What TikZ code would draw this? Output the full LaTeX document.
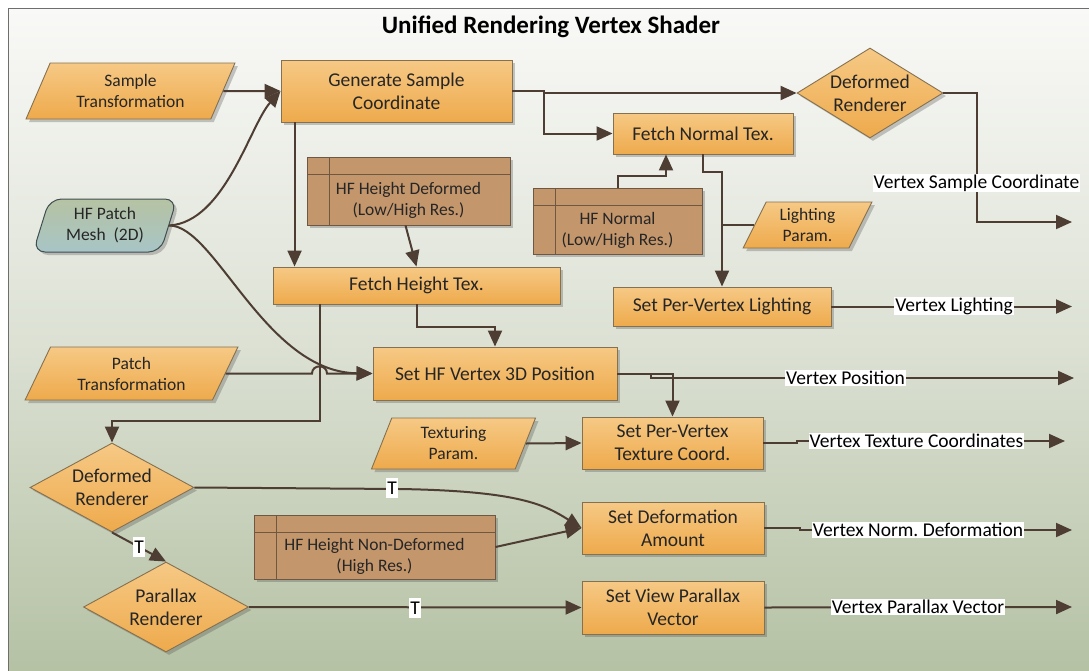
\documentclass[tikz,border=0pt]{standalone}
\usepackage{fontspec}
\setmainfont{Carlito}
\usetikzlibrary{shapes.geometric,arrows.meta,shadows,calc}
\frenchspacing

\definecolor{orT}{HTML}{F6C985}
\definecolor{orB}{HTML}{EEAA4C}
\definecolor{orD}{HTML}{85704F}
\definecolor{dsF}{HTML}{C4966C}
\definecolor{dsD}{HTML}{6F5843}
\definecolor{lnC}{HTML}{4E3D33}
\definecolor{bgT}{HTML}{F9F9F7}
\definecolor{bgM}{HTML}{DCE1D4}
\definecolor{bgB}{HTML}{B4C1A3}
\definecolor{frC}{HTML}{6E6E6E}
\definecolor{mshT}{HTML}{B6C3A3}
\definecolor{mshB}{HTML}{A7C4C6}
\definecolor{mshD}{HTML}{3F4F50}

\newcommand\szBig{\fontsize{19.5}{23}\selectfont}
\newcommand\szSmall{\fontsize{17.5}{21}\selectfont}
\newcommand\szTitle{\fontsize{25}{29}\selectfont\bfseries}

\tikzset{
  shd/.style={drop shadow={shadow xshift=3pt,shadow yshift=-3pt,opacity=0.3,fill=black!70}},
  proc/.style={shd, draw=orD, line width=0.9pt, top color=orT, bottom color=orB,
    inner sep=0pt, align=center, font=\szBig, text=black!85},
  pbox/.style 2 args={proc, minimum width=#1, minimum height=#2},
  para/.style={proc, shape=trapezium, trapezium stretches=true, font=\szSmall},
  dia/.style 2 args={proc, shape=diamond, minimum width=#1, minimum height=#2},
  store/.style={shd, draw=dsD, fill=dsF, line width=0.9pt, inner sep=0pt,
    path picture={
      \draw[dsD, line width=0.9pt] ([yshift=-17pt]path picture bounding box.north west) -- ([yshift=-17pt]path picture bounding box.north east);
      \draw[dsD, line width=0.9pt] ([xshift=22pt]path picture bounding box.north west) -- ([xshift=22pt]path picture bounding box.south west);
    }},
  conn/.style={draw=lnC, line width=2pt, -{Triangle[length=16pt,width=14pt]}},
  plainln/.style={draw=lnC, line width=2pt},
  olab/.style={fill=white, inner sep=1pt, font=\szBig, text=black},
  tlab/.style={fill=white, inner xsep=1pt, inner ysep=4pt, font=\szBig, text=black},
}

\begin{document}
\begin{tikzpicture}[x=1pt,y=-1pt]
\useasboundingbox (0,0) rectangle (1089,670);
\fill[white] (0,0) rectangle (1089,670);
\fill[top color=bgT, bottom color=bgB, middle color=bgM] (8,8) rectangle (1095,676);
\draw[frC, line width=1pt] (8,8) rectangle (1095,676);

\node[font=\szTitle] (title) at (551,27) {Unified Rendering Vertex Shader};

% nodes
\node[para, trapezium left angle=64, trapezium right angle=116, minimum width=209pt, minimum height=56pt] (SampleT) at (130.5,91) {Sample\\Transformation};
\node[pbox={231pt}{62pt}] (GenSample) at (396.5,91) {Generate Sample\\Coordinate};
\node[dia={146pt}{90pt}, label={[font=\szBig,align=center,text=black!85]center:Deformed\\Renderer}] (DRT) at (870,93) {};
\node[pbox={180pt}{41pt}] (FetchNormal) at (703,133.5) {Fetch Normal Tex.};
\node[shd, shape=trapezium, trapezium stretches=true, trapezium left angle=72, trapezium right angle=108,
      rounded corners=12pt, minimum width=144pt, minimum height=53pt, draw=mshD, line width=1pt,
      top color=mshT, bottom color=mshB, align=center, font=\szSmall, inner sep=0pt, text=black!85] (HFPatch) at (105,225.5) {HF Patch\\Mesh\ \ (2D)};
\node[store, minimum width=203pt, minimum height=68pt,
      label={[font=\szSmall,align=center,yshift=-9pt,text=black!85]center:HF Height Deformed\\(Low/High Res.)}] (HFHD) at (408.5,191) {};
\node[store, minimum width=169pt, minimum height=66pt,
      label={[font=\szSmall,align=center,yshift=-9pt,text=black!85]center:HF Normal\\(Low/High Res.)}] (HFN) at (617.5,221) {};
\node[para, trapezium left angle=65, trapezium right angle=115, minimum width=129pt, minimum height=46pt] (LightP) at (807.5,225) {Lighting\\Param.};
\node[pbox={218pt}{39pt}] (SPVL) at (722,306.5) {Set Per-Vertex Lighting};
\node[pbox={287pt}{37pt}] (FetchHeight) at (416.5,285.5) {Fetch Height Tex.};
\node[pbox={244pt}{53pt}] (SetHF3D) at (495,373.5) {Set HF Vertex 3D Position};
\node[para, trapezium left angle=63, trapezium right angle=117, minimum width=213pt, minimum height=53pt] (PatchT) at (131.5,373.5) {Patch\\Transformation};
\node[para, trapezium left angle=72, trapezium right angle=108, minimum width=165pt, minimum height=51pt] (TexP) at (453.5,443.5) {Texturing\\Param.};
\node[pbox={181pt}{52pt}] (SPVT) at (672.5,443) {Set Per-Vertex\\Texture Coord.};
\node[dia={164pt}{89pt}, label={[font=\szBig,align=center,text=black!85]center:Deformed\\Renderer}] (DRB) at (112,487.5) {};
\node[dia={165pt}{90pt}, label={[font=\szBig,align=center,text=black!85]center:Parallax\\Renderer}] (PR) at (166,607) {};
\node[store, minimum width=241pt, minimum height=64pt,
      label={[font=\szSmall,align=center,yshift=-9pt,text=black!85]center:HF Height Non-Deformed\\(High Res.)}] (HFND) at (374.5,547) {};
\node[pbox={182pt}{52pt}] (SetDef) at (673,528) {Set Deformation\\Amount};
\node[pbox={182pt}{53pt}] (SVP) at (673,607.5) {Set View Parallax\\Vector};

% output end points
\coordinate (o1) at (1072,222);
\coordinate (o2) at (1072,306.5);
\coordinate (o3) at (1074,378);
\coordinate (o4) at (1065,441);
\coordinate (o5) at (1072,530);
\coordinate (o6) at (1072,607);

% connectors
\draw[conn] (SampleT.east) -- (GenSample.west);
\draw[conn] (HFPatch.east) .. controls (225,222) and (250,125) .. (GenSample.west);
\draw[conn] (HFPatch.east) .. controls (215,225) and (265,372) .. (SetHF3D.west);
\draw[conn] (PatchT.east) -- (312,373.5) .. controls (312,364) and (327,364) .. (327,373.5) -- (SetHF3D.west);
\draw[conn] ([xshift=14pt]GenSample.south west) -- ([xshift=14pt]GenSample.south west |- FetchHeight.north);
\draw[conn] ([xshift=-3pt]HFHD.south) -- (FetchHeight.north);
\draw[conn] (GenSample.east) -- ++(32,0) |- (DRT.west);
\draw[conn] (GenSample.east) -- ++(32,0) |- (FetchNormal.west);
\draw[conn] (HFN.north) -- ++(0,-12) -| ([xshift=-37pt]FetchNormal.south);
\draw[conn] (FetchNormal.south) -- ++(0,18) -| (SPVL.north);
\draw[plainln] (LightP.west) -- (LightP.west -| SPVL.north);
\draw[conn] (FetchHeight.south) -- ++(0,23) -| (SetHF3D.north);
\draw[conn] ([xshift=-97pt]FetchHeight.south) -- ++(0,117) -| (DRB.north);
\draw[conn] (TexP.east) -- (SPVT.west);
\draw[conn] (SetHF3D.east) -| (SPVT.north);
\draw[conn] (DRB.east) -- (400,489) .. controls (520,491) and (545,505) .. (SetDef.west);
\draw[conn] (HFND.east) -- (SetDef.west);
\draw[conn] (DRB.south) -- (PR.north);
\draw[conn] (PR.east) -- (SVP.west);

% outputs
\draw[conn] (DRT.east) -- ++(34,0) |- (o1);
\draw[conn] (SPVL.east) -- (o2);
\draw[conn] (SetHF3D.east) -- ++(34,0) -- ++(0,4.5) -- (o3);
\draw[conn] (SPVT.east) -- ++(34,0) -- ++(0,-2) -- (o4);
\draw[conn] (SetDef.east) -- ++(36,0) -- ++(0,2) -- (o5);
\draw[conn] (SVP.east) -- (o6);

% labels
\node[olab] (l1) at (976.5,183) {Vertex Sample Coordinate};
\node[olab] (l2) at (954,306) {Vertex Lighting};
\node[olab] (l3) at (845.5,378) {Vertex Position};
\node[olab] (l4) at (916.5,441) {Vertex Texture Coordinates};
\node[olab] (l5) at (918,530) {Vertex Norm. Deformation};
\node[olab] (l6) at (918,607) {Vertex Parallax Vector};
\node[tlab] (t1) at (392,488) {T};
\node[tlab] (t2) at (139,547) {T};
\node[tlab] (t3) at (415,608) {T};
\end{tikzpicture}
\end{document}
